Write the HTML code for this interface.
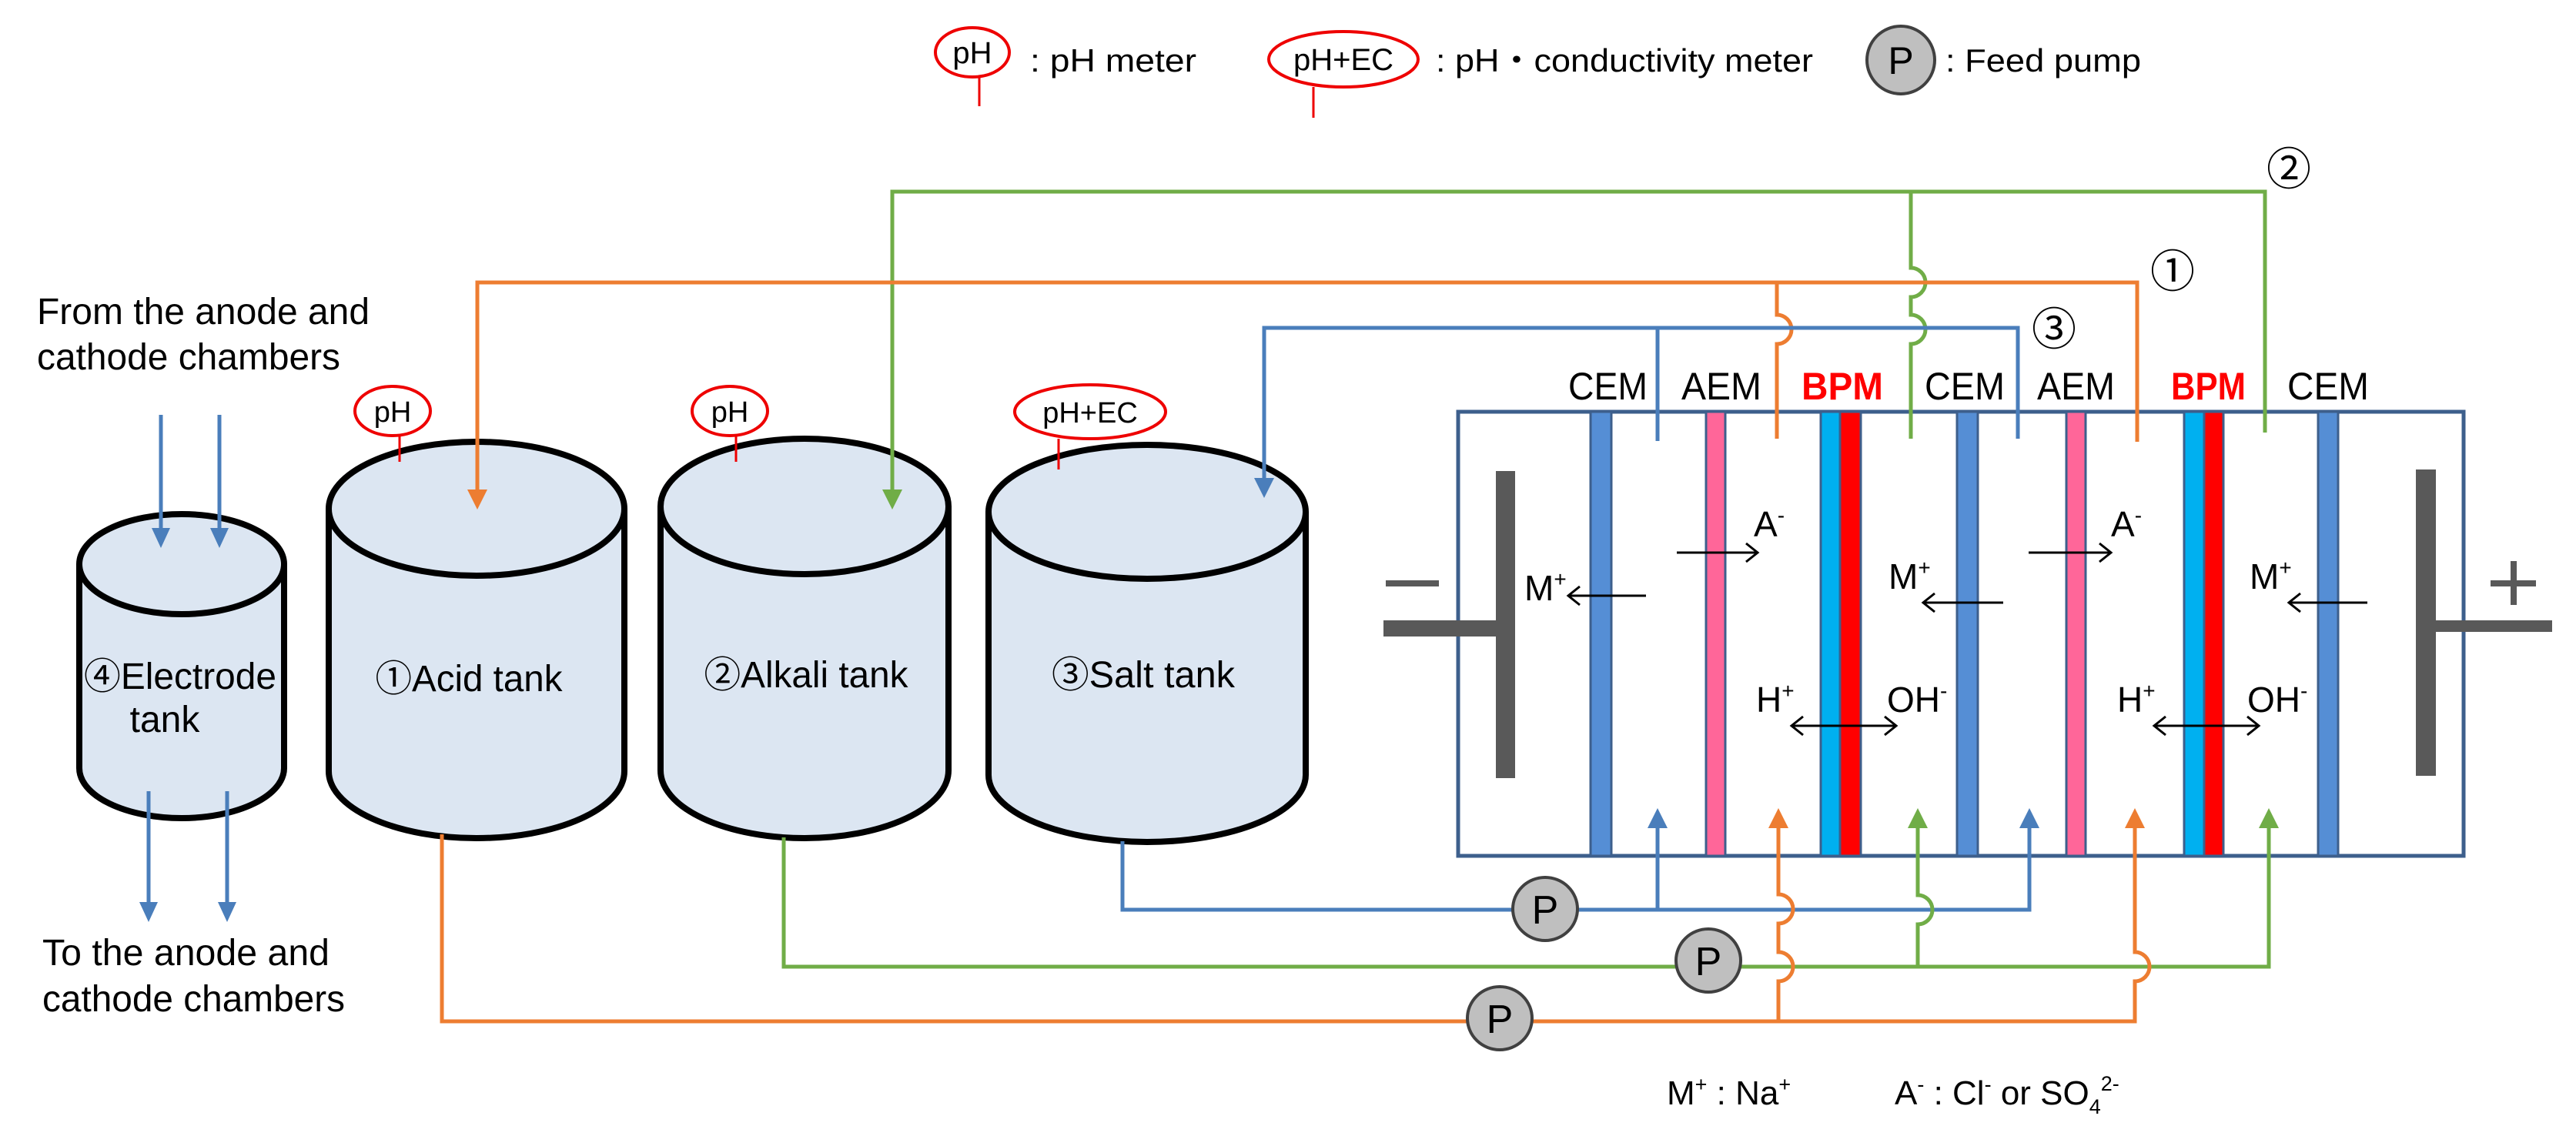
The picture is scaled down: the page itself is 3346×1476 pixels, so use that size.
<!DOCTYPE html>
<html><head><meta charset="utf-8"><style>
html,body{margin:0;padding:0;background:#fff;}
svg{display:block;}
text{font-family:"Liberation Sans","Noto Sans CJK JP",sans-serif;fill:#000;}
</style></head><body>
<svg width="3346" height="1476" viewBox="0 0 3346 1476" xmlns="http://www.w3.org/2000/svg">

<!-- Legend -->
<ellipse cx="1263" cy="68" rx="48" ry="32" fill="#fff" stroke="#e00" stroke-width="4"/>
<text x="1263" y="82" font-size="40" text-anchor="middle">pH</text>
<line x1="1272" y1="100" x2="1272" y2="138" stroke="#e00" stroke-width="3"/>
<text x="1338" y="93" font-size="42" textLength="216" lengthAdjust="spacingAndGlyphs">: pH meter</text>
<ellipse cx="1745" cy="77" rx="97" ry="36" fill="#fff" stroke="#e00" stroke-width="4"/>
<text x="1745" y="91" font-size="40" text-anchor="middle">pH+EC</text>
<line x1="1706" y1="113" x2="1706" y2="153" stroke="#e00" stroke-width="3"/>
<text x="1865" y="93" font-size="42" textLength="490" lengthAdjust="spacingAndGlyphs">: pH・conductivity meter</text>
<ellipse cx="2469" cy="78" rx="44" ry="44" fill="#bfbfbf" stroke="#404040" stroke-width="4"/>
<text x="2469" y="96" font-size="50" text-anchor="middle">P</text>
<text x="2527" y="93" font-size="42" textLength="254" lengthAdjust="spacingAndGlyphs">: Feed pump</text>

<!-- Left texts -->
<text x="48" y="421" font-size="48" textLength="432" lengthAdjust="spacingAndGlyphs">From the anode and</text>
<text x="48" y="480" font-size="48" textLength="394" lengthAdjust="spacingAndGlyphs">cathode chambers</text>
<text x="55" y="1254" font-size="48" textLength="373" lengthAdjust="spacingAndGlyphs">To the anode and</text>
<text x="55" y="1314" font-size="48" textLength="393" lengthAdjust="spacingAndGlyphs">cathode chambers</text>

<!-- Tanks -->
<g stroke="#000" stroke-width="8" fill="#dce6f2">
<path d="M103,733 L103,998 A133,65 0 0 0 369,998 L369,733"/>
<ellipse cx="236" cy="733" rx="133" ry="65"/>
<path d="M427,661 L427,1002 A192,87 0 0 0 811,1002 L811,661"/>
<ellipse cx="619" cy="661" rx="192" ry="87"/>
<path d="M858,658 L858,1001 A187,88 0 0 0 1232,1001 L1232,658"/>
<ellipse cx="1045" cy="658" rx="187" ry="88"/>
<path d="M1284,665 L1284,1007 A206,87 0 0 0 1696,1007 L1696,665"/>
<ellipse cx="1490" cy="665" rx="206" ry="87"/>
</g>
<text x="234" y="895" font-size="48" text-anchor="middle" textLength="250" lengthAdjust="spacingAndGlyphs">④Electrode</text>
<text x="214" y="951" font-size="48" text-anchor="middle">tank</text>
<text x="609" y="898" font-size="48" text-anchor="middle" textLength="243" lengthAdjust="spacingAndGlyphs">①Acid tank</text>
<text x="1047" y="893" font-size="48" text-anchor="middle" textLength="265" lengthAdjust="spacingAndGlyphs">②Alkali tank</text>
<text x="1485" y="893" font-size="48" text-anchor="middle" textLength="238" lengthAdjust="spacingAndGlyphs">③Salt tank</text>

<!-- Meters on tanks -->
<g stroke="#e00" fill="#fff">
<ellipse cx="510" cy="534" rx="49" ry="32" stroke-width="4"/>
<line x1="519" y1="566" x2="519" y2="600" stroke-width="3"/>
<ellipse cx="948" cy="534" rx="49" ry="32" stroke-width="4"/>
<line x1="956" y1="566" x2="956" y2="600" stroke-width="3"/>
<ellipse cx="1416" cy="535" rx="98" ry="35" stroke-width="4"/>
<line x1="1375" y1="570" x2="1375" y2="610" stroke-width="3"/>
</g>
<text x="510" y="548" font-size="38" text-anchor="middle">pH</text>
<text x="948" y="548" font-size="38" text-anchor="middle">pH</text>
<text x="1416" y="549" font-size="38" text-anchor="middle">pH+EC</text>

<!-- Electrode tank arrows (blue) -->
<g stroke="#4a7ebb" stroke-width="5" fill="none">
<line x1="209" y1="539" x2="209" y2="690"/><line x1="285" y1="539" x2="285" y2="690"/>
<line x1="193" y1="1028" x2="193" y2="1176"/><line x1="295" y1="1028" x2="295" y2="1176"/>
</g>
<g fill="#4a7ebb">
<path d="M197,686 L221,686 L209,712 Z"/><path d="M273,686 L297,686 L285,712 Z"/>
<path d="M181,1172 L205,1172 L193,1198 Z"/><path d="M283,1172 L307,1172 L295,1198 Z"/>
</g>

<!-- Stack box -->
<rect x="1894" y="535" width="1306" height="577" fill="#fff" stroke="#3d5f8c" stroke-width="5"/>
<g stroke="#3d5f8c" stroke-width="3">
<rect x="2066" y="535" width="27" height="577" fill="#558ed5"/>
<rect x="2216" y="535" width="25" height="577" fill="#ff6699"/>
<rect x="2365" y="535" width="25" height="577" fill="#00b0f0"/>
<rect x="2390" y="535" width="27" height="577" fill="#ff0000"/>
<rect x="2542" y="535" width="27" height="577" fill="#558ed5"/>
<rect x="2684" y="535" width="25" height="577" fill="#ff6699"/>
<rect x="2837" y="535" width="26" height="577" fill="#00b0f0"/>
<rect x="2863" y="535" width="25" height="577" fill="#ff0000"/>
<rect x="3011" y="535" width="26" height="577" fill="#558ed5"/>
</g>
<g fill="#595959">
<rect x="1943" y="612" width="25" height="399"/>
<rect x="1797" y="806" width="150" height="21"/>
<rect x="1800" y="754" width="69" height="8"/>
<rect x="3138" y="610" width="26" height="398"/>
<rect x="3162" y="806" width="153" height="15"/>
<rect x="3235" y="754" width="59" height="8"/>
<rect x="3261" y="729" width="8" height="57"/>
</g>

<!-- Membrane labels -->
<g font-size="50">
<text x="2037" y="519" textLength="103" lengthAdjust="spacingAndGlyphs">CEM</text>
<text x="2184" y="519" textLength="104" lengthAdjust="spacingAndGlyphs">AEM</text>
<text x="2340" y="519" textLength="106" lengthAdjust="spacingAndGlyphs" font-weight="bold" style="fill:#ff0000">BPM</text>
<text x="2500" y="519" textLength="104" lengthAdjust="spacingAndGlyphs">CEM</text>
<text x="2646" y="519" textLength="101" lengthAdjust="spacingAndGlyphs">AEM</text>
<text x="2820" y="519" textLength="97" lengthAdjust="spacingAndGlyphs" font-weight="bold" style="fill:#ff0000">BPM</text>
<text x="2971" y="519" textLength="106" lengthAdjust="spacingAndGlyphs">CEM</text>
</g>

<!-- Ion arrows -->
<g stroke="#000" stroke-width="3" fill="none">
<line x1="2178" y1="718" x2="2283" y2="718"/><path d="M2268,706 L2283,718 L2268,730"/>
<line x1="2138" y1="774" x2="2037" y2="774"/><path d="M2052,762 L2037,774 L2052,786"/>
<line x1="2602" y1="783" x2="2498" y2="783"/><path d="M2513,771 L2498,783 L2513,795"/>
<line x1="2635" y1="718" x2="2742" y2="718"/><path d="M2727,706 L2742,718 L2727,730"/>
<line x1="3075" y1="783" x2="2973" y2="783"/><path d="M2988,771 L2973,783 L2988,795"/>
<line x1="2327" y1="943" x2="2463" y2="943"/><path d="M2342,931 L2327,943 L2342,955 M2448,931 L2463,943 L2448,955"/>
<line x1="2798" y1="943" x2="2934" y2="943"/><path d="M2813,931 L2798,943 L2813,955 M2919,931 L2934,943 L2919,955"/>
</g>
<g font-size="46">
<text x="2278" y="697">A<tspan font-size="28" dy="-18">-</tspan></text>
<text x="2742" y="697">A<tspan font-size="28" dy="-18">-</tspan></text>
<text x="1980" y="780">M<tspan font-size="28" dy="-18">+</tspan></text>
<text x="2453" y="765">M<tspan font-size="28" dy="-18">+</tspan></text>
<text x="2922" y="765">M<tspan font-size="28" dy="-18">+</tspan></text>
<text x="2281" y="925">H<tspan font-size="28" dy="-18">+</tspan></text>
<text x="2451" y="925">OH<tspan font-size="28" dy="-18">-</tspan></text>
<text x="2750" y="925">H<tspan font-size="28" dy="-18">+</tspan></text>
<text x="2919" y="925">OH<tspan font-size="28" dy="-18">-</tspan></text>
</g>

<!-- Top flow lines -->
<g fill="none" stroke-width="5">
<path d="M1159,640 L1159,249 L2942,249 L2942,562" stroke="#70ad47"/>
<path d="M2482,249 L2482,348 A19,19 0 0 1 2482,386 L2482,409 A19,19 0 0 1 2482,447 L2482,570" stroke="#70ad47"/>
<path d="M620,640 L620,367 L2776,367 L2776,574" stroke="#ed7d31"/>
<path d="M2308,367 L2308,409 A19,19 0 0 1 2308,447 L2308,570" stroke="#ed7d31"/>
<path d="M1642,625 L1642,426 L2621,426 L2621,570" stroke="#4a7ebb"/>
<path d="M2153,426 L2153,573" stroke="#4a7ebb"/>
</g>
<path d="M1146,636 L1172,636 L1159,662 Z" fill="#70ad47"/>
<path d="M607,636 L633,636 L620,662 Z" fill="#ed7d31"/>
<path d="M1629,621 L1655,621 L1642,647 Z" fill="#4a7ebb"/>

<!-- Bottom flow lines -->
<g fill="none" stroke-width="5">
<path d="M1458,1093 L1458,1182 L2636,1182 L2636,1072" stroke="#4a7ebb"/>
<path d="M2153,1182 L2153,1072" stroke="#4a7ebb"/>
<path d="M1018,1088 L1018,1256 L2947,1256 L2947,1072" stroke="#70ad47"/>
<path d="M2491,1256 L2491,1201 A19,19 0 0 0 2491,1163 L2491,1072" stroke="#70ad47"/>
<path d="M574,1084 L574,1327 L2773,1327 L2773,1275 A19,19 0 0 0 2773,1237 L2773,1072" stroke="#ed7d31"/>
<path d="M2310,1327 L2310,1275 A19,19 0 0 0 2310,1237 L2310,1200 A19,19 0 0 0 2310,1162 L2310,1072" stroke="#ed7d31"/>
</g>
<g>
<path d="M2140,1076 L2166,1076 L2153,1050 Z" fill="#4a7ebb"/>
<path d="M2623,1076 L2649,1076 L2636,1050 Z" fill="#4a7ebb"/>
<path d="M2478,1076 L2504,1076 L2491,1050 Z" fill="#70ad47"/>
<path d="M2934,1076 L2960,1076 L2947,1050 Z" fill="#70ad47"/>
<path d="M2297,1076 L2323,1076 L2310,1050 Z" fill="#ed7d31"/>
<path d="M2760,1076 L2786,1076 L2773,1050 Z" fill="#ed7d31"/>
</g>

<!-- Pumps -->
<g fill="#bfbfbf" stroke="#404040" stroke-width="4">
<ellipse cx="2007" cy="1181" rx="42" ry="41"/>
<ellipse cx="2219" cy="1248" rx="42" ry="41"/>
<ellipse cx="1948" cy="1323" rx="42" ry="41"/>
</g>
<g font-size="52" text-anchor="middle">
<text x="2007" y="1200">P</text>
<text x="2219" y="1267">P</text>
<text x="1948" y="1342">P</text>
</g>

<!-- Circled numbers -->
<g font-size="58" text-anchor="middle">
<text x="2973" y="240">②</text>
<text x="2822" y="373">①</text>
<text x="2668" y="448">③</text>
</g>

<!-- Bottom legend -->
<g font-size="44">
<text x="2165" y="1435">M<tspan font-size="27" dy="-17">+</tspan><tspan dy="17"> : Na</tspan><tspan font-size="27" dy="-17">+</tspan></text>
<text x="2461" y="1435">A<tspan font-size="27" dy="-17">-</tspan><tspan dy="17"> : Cl</tspan><tspan font-size="27" dy="-17">-</tspan><tspan dy="17"> or SO</tspan><tspan font-size="27" dy="12">4</tspan><tspan font-size="27" dy="-30">2-</tspan></text>
</g>
</svg>
</body></html>
